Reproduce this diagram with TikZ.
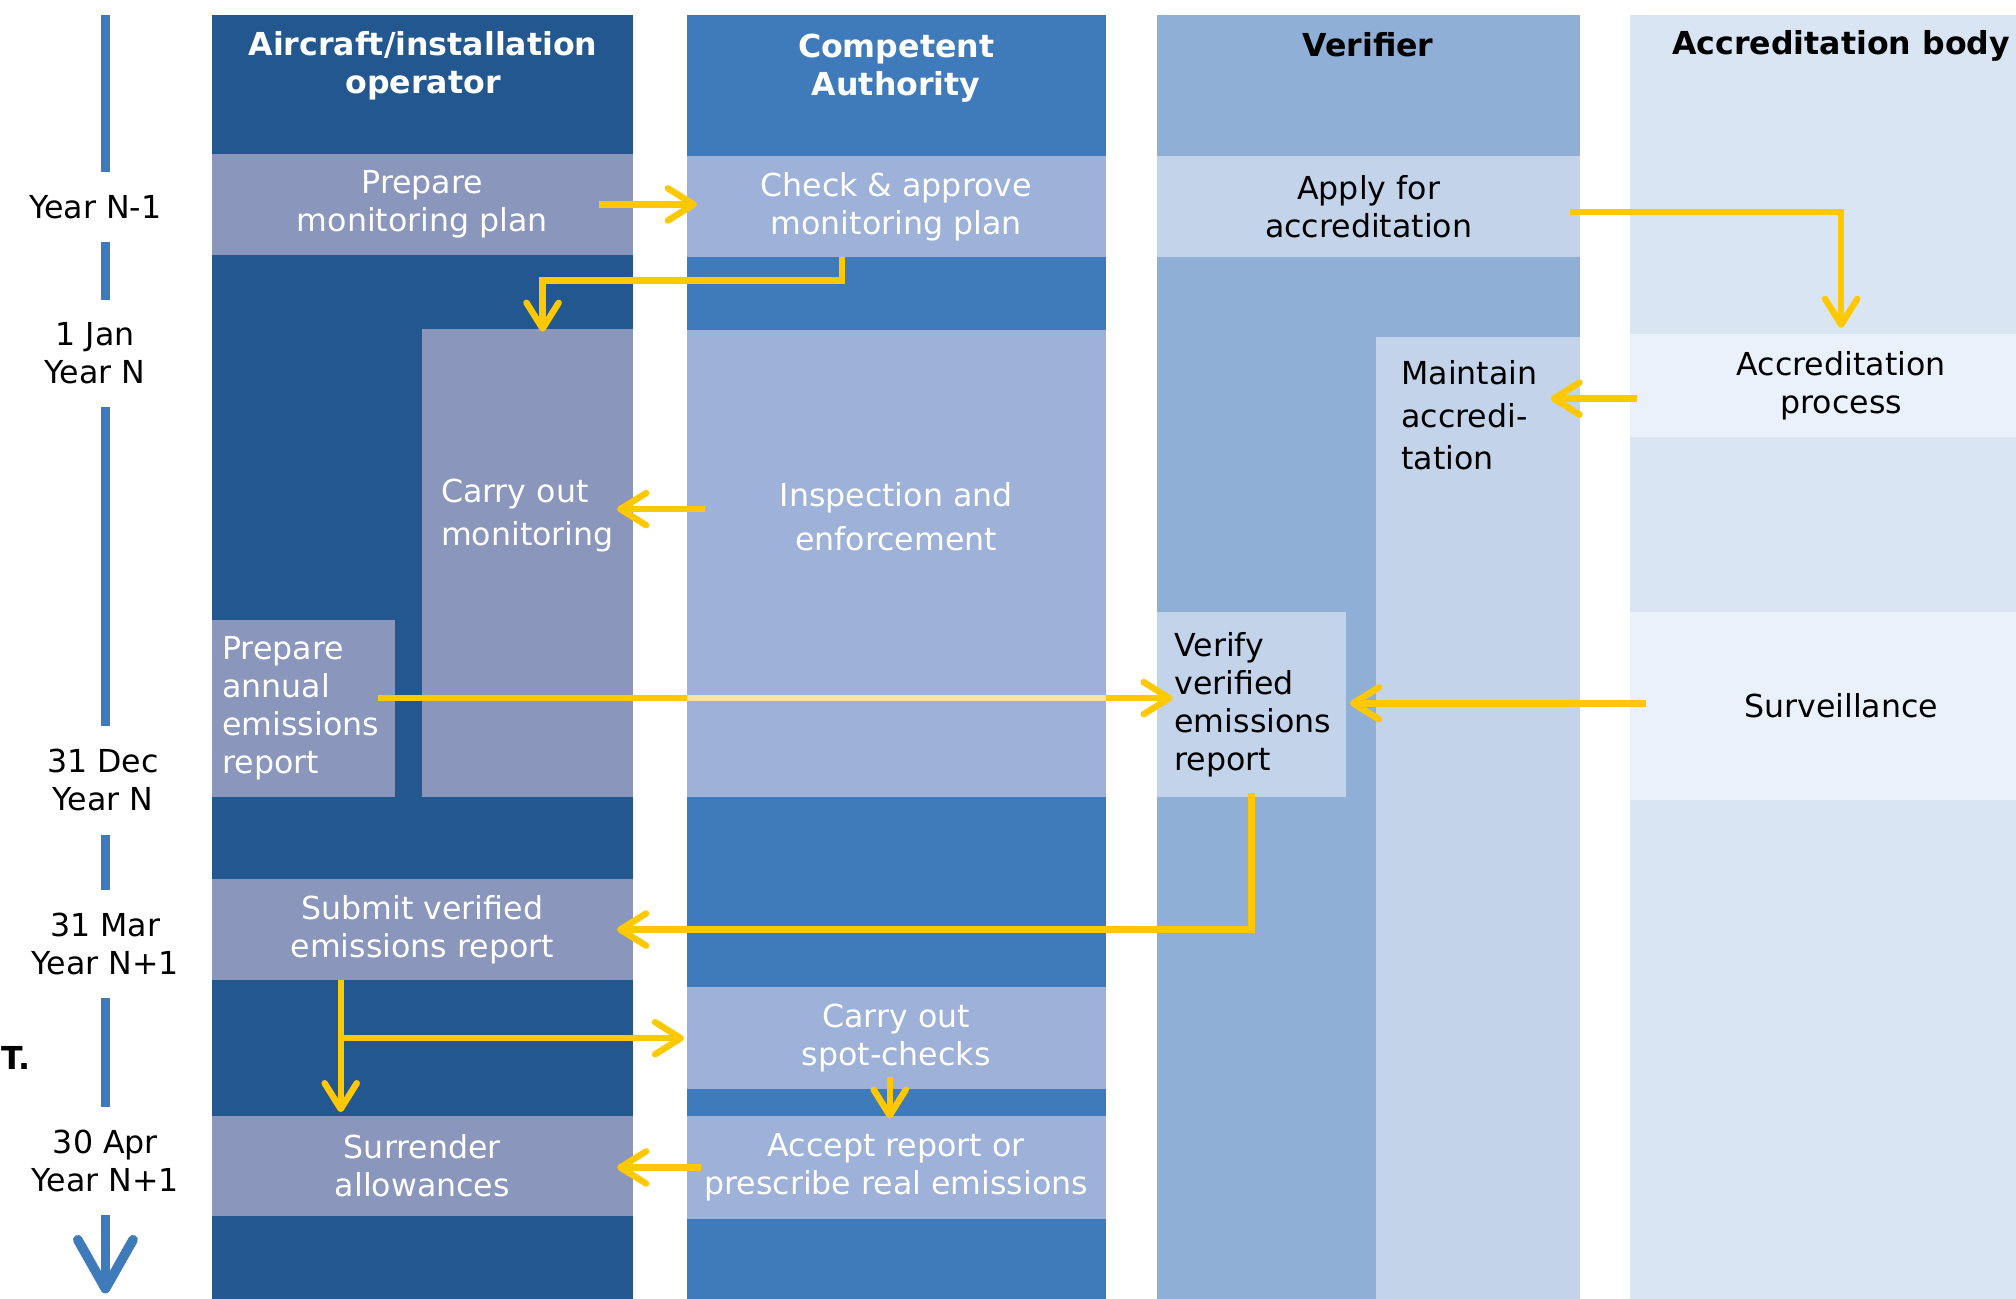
\documentclass[tikz,border=0pt]{standalone}
\usepackage{fontspec}
\setmainfont{DejaVu Sans}
\usetikzlibrary{arrows.meta,positioning,calc}

\definecolor{opLane}{HTML}{23578F}
\definecolor{opBox}{HTML}{8A96BB}
\definecolor{caLane}{HTML}{3F7BBA}
\definecolor{caBox}{HTML}{9DB1D9}
\definecolor{verLane}{HTML}{8FAFD7}
\definecolor{verBox}{HTML}{C3D3EA}
\definecolor{accLane}{HTML}{DAE5F3}
\definecolor{accBox}{HTML}{EAF1FA}
\definecolor{linkYellow}{HTML}{FFC800}
\definecolor{linkPale}{HTML}{FBE3A0}
\definecolor{timeBlue}{HTML}{3F7BBA}

\tikzset{
  lanehead/.style={font=\bfseries\fontsize{14}{17}\selectfont, align=center, inner sep=0pt},
  boxtext/.style={font=\fontsize{14}{16.8}\selectfont, align=center, inner sep=0pt, outer sep=0pt},
  cell/.style={boxtext, anchor=north west},
  opbox/.style={cell, fill=opBox, text=white},
  cabox/.style={cell, fill=caBox, text=white},
  verbox/.style={cell, fill=verBox, text=black},
  accbox/.style={cell, fill=accBox, text=black},
  when/.style={boxtext},
  tline/.style={timeBlue, line width=1.5mm, shorten <=3.6mm, shorten >=3.6mm},
  link/.style={linkYellow, line width=1mm, -{Straight Barb[round,length=4mm,width=5mm]}},
  palelink/.style={linkPale, line width=1mm},
}

\begin{document}
\begin{tikzpicture}[x=0.2mm, y=-0.2mm]
    \useasboundingbox (0,0) rectangle (1568,1010);
    % lanes
    \fill[opLane] (165,12) rectangle (492,1010);
    \fill[caLane] (534,12) rectangle (860,1010);
    \fill[verLane] (900,12) rectangle (1229,1010);
    \fill[accLane] (1268,12) rectangle (1596,1010);
    \node[lanehead, text=white] (ophead) at (329,51) {Aircraft/installation\\operator};
    \node[lanehead, text=white] (cahead) at (697,53) {Competent\\Authority};
    \node[lanehead] (verhead) at (1064,35) {Verifier};
    \node[lanehead] (acchead) at (1432,36) {Accreditation body};
    % operator
    \node[opbox, minimum width=65.4mm, minimum height=15.6mm] (prepplan) at (165,120) {Prepare\\monitoring plan};
    \node[opbox, minimum width=32.8mm, minimum height=72.8mm] (monitor) at (328,256) {};
    \node[opbox, minimum width=28.4mm, minimum height=27.6mm, text width=25.2mm, align=left] (annual) at (165,482) {Prepare\\annual\\emissions\\report};
    \node[opbox, minimum width=65.4mm, minimum height=15.6mm] (submit) at (165,684) {Submit verified\\emissions report};
    \node[opbox, minimum width=65.4mm, minimum height=15.6mm] (surrender) at (165,868) {Surrender\\allowances};
    \node[boxtext, text=white, font=\fontsize{14}{19.3}\selectfont, anchor=west, align=left] (monitortxt) at (343,401) {Carry out\\monitoring};
    % competent authority
    \node[cabox, minimum width=65.2mm, minimum height=15.8mm] (check) at (534,121) {Check \& approve\\monitoring plan};
    \node[cabox, minimum width=65.2mm, minimum height=72.6mm] (inspect) at (534,257) {};
    \node[cabox, minimum width=65.2mm, minimum height=15.8mm] (spot) at (534,768) {Carry out\\spot-checks};
    \node[cabox, minimum width=65.2mm, minimum height=16mm] (accept) at (534,868) {Accept report or\\prescribe real emissions};
    \node[boxtext, text=white, font=\fontsize{14}{19.3}\selectfont] (inspecttxt) at (697,402) {Inspection and\\enforcement};
    % verifier
    \node[verbox, minimum width=65.8mm, minimum height=15.8mm] (apply) at (900,121) {Apply for\\accreditation};
    \node[verbox, minimum width=31.8mm, minimum height=149.6mm] (maint) at (1070,262) {};
    \node[verbox, minimum width=29.4mm, minimum height=28.8mm, text width=24mm, align=left] (verify) at (900,476) {Verify\\verified\\emissions\\report};
    \node[boxtext, font=\fontsize{14}{18.7}\selectfont, anchor=west, align=left] (mainttxt) at (1090,323) {Maintain\\accredi-\\tation};
    % accreditation body
    \node[accbox, minimum width=65.6mm, minimum height=16mm] (accproc) at (1268,260) {Accreditation\\process};
    \node[accbox, minimum width=65.6mm, minimum height=29.2mm] (surv) at (1268,476) {Surveillance};

    % time line
    \node[when] (yN1) at (74,161) {Year N-1};
    \node[when] (jan) at (74,275) {1 Jan\\Year N};
    \node[when] (dec) at (80,607) {31 Dec\\Year N};
    \node[when] (mar) at (82,734) {31 Mar\\Year N+1};
    \node[when] (apr) at (82,903) {30 Apr\\Year N+1};
    \node[font=\bfseries\fontsize{14}{16.8}\selectfont, anchor=base west, inner sep=0pt] (cutT) at (1,832) {T.};
    \coordinate (tltop) at (82,12);
    \coordinate (tlend) at (82,1006);
    \draw[tline, shorten <=0pt] (tltop) -- (yN1.north -| tltop);
    \foreach \a/\b in {yN1/jan, jan/dec, dec/mar, mar/apr}
        \draw[tline] (\a.south -| tltop) -- (\b.north -| tltop);
    \draw[tline, shorten >=0pt, -{Straight Barb[round,length=7.6mm,width=8.6mm]}] (apr.south -| tltop) -- (tlend);

    % flows
    \draw[link] ([xshift=-5.2mm]prepplan.east) coordinate (p1) -- ($(p1 -| check.west)+(1.6mm,0)$);
    \draw[link] ([xshift=-8.4mm]check.south) -- ++(0,-3.6mm) -| ([xshift=2.4mm,yshift=-0.4mm]monitor.north);
    \draw[link] ([xshift=-1.6mm,yshift=-0.9mm]apply.east) -| ([yshift=1mm]accproc.north);
    \draw[link] ([xshift=1mm,yshift=-2mm]accproc.west) coordinate (p4) -- ($(p4 -| maint.east)+(-4.6mm,0)$);
    \draw[link] ([xshift=2.8mm,yshift=8.5mm]inspect.west) coordinate (p5) -- ($(p5 -| monitor.east)+(-2.4mm,0)$);
    \draw[link] ([xshift=-2.6mm,yshift=1.6mm]annual.east) coordinate (p6) -- ($(p6 -| verify.west)+(2.4mm,0)$);
    \draw[palelink] (p6 -| inspect.west) -- (p6 -| inspect.east);
    \draw[link] ([xshift=2.4mm,yshift=0.4mm]surv.west) coordinate (p7) -- ($(p7 -| verify.east)+(0.6mm,0)$);
    \draw[link] ([yshift=0.6mm]verify.south) |- ([xshift=-2.4mm]submit.east);
    \draw[link] ([xshift=-12.7mm]submit.south) coordinate (trunk) -- ($(trunk |- surrender.north)+(0,0.6mm)$);
    \draw[link] (trunk |- spot.west) -- ([xshift=-0.4mm]spot.west);
    \draw[link] ([xshift=-1mm,yshift=1.8mm]spot.south) -- ([xshift=-1mm,yshift=-0.4mm]accept.north);
    \draw[link] ([xshift=2.2mm]accept.west) coordinate (p11) -- ($(p11 -| surrender.east)+(-2.4mm,0)$);
\end{tikzpicture}
\end{document}
